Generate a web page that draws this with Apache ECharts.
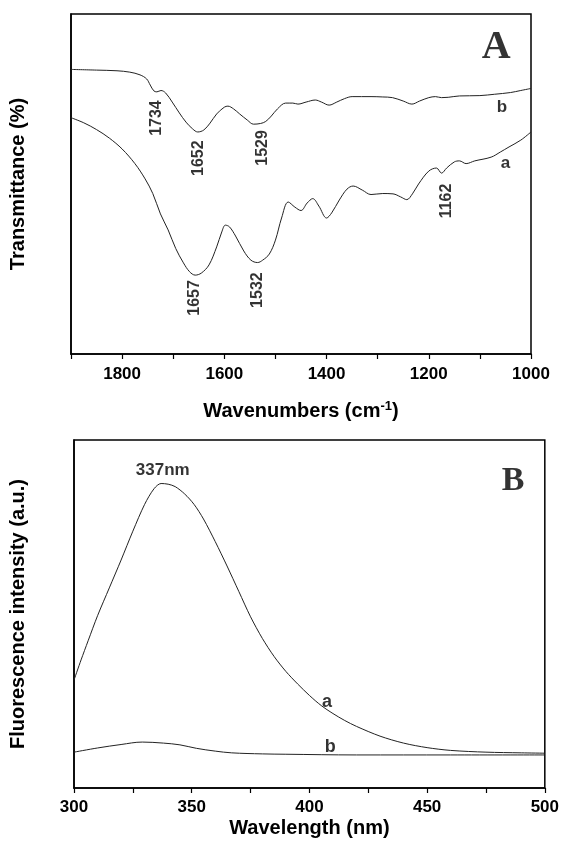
<!DOCTYPE html>
<html>
<head>
<meta charset="utf-8">
<script src="https://cdn.jsdelivr.net/npm/echarts@6/dist/echarts.min.js"></script>
<style>
html,body{margin:0;padding:0;background:#fff;}
#chart{width:562px;height:846px;}
</style>
</head>
<body>
<div id="chart"></div>
<script>
// ---------- Panel A (FTIR) ----------
var wavenumbersA = [1900,1875,1850,1825,1800,1775,1755,1740,1725,1710,1695,1680,1668,1657,1645,1630,1615,1605,1598,1590,1578,1562,1548,1535,1525,1512,1500,1488,1475,1462,1450,1438,1427,1415,1400,1390,1375,1360,1348,1330,1313,1290,1270,1255,1243,1232,1220,1200,1185,1175,1165,1150,1140,1127,1110,1078,1060,1043,1020,1000];
var transA = [69.5,68.0,66.0,63.5,60.3,56.0,51.5,47.2,41.2,36.5,31.0,26.8,24.2,23.2,23.8,26.2,31.5,35.9,37.9,37.4,34.7,30.3,27.6,26.9,27.6,29.4,33.5,40.0,44.7,43.2,42.2,44.4,45.7,43.5,40.0,41.5,45.3,48.5,49.4,48.2,46.9,47.2,47.1,46.2,45.4,47.1,50.0,53.8,54.7,53.2,54.7,56.5,56.8,56.0,56.8,57.9,59.4,60.9,62.9,65.3];
var wavenumbersB = [1900,1850,1810,1785,1765,1752,1745,1738,1732,1724,1715,1702,1688,1675,1662,1652,1640,1628,1615,1600,1593,1582,1570,1555,1543,1529,1519,1508,1496,1480,1466,1456,1440,1422,1410,1395,1380,1365,1350,1313,1290,1271,1250,1233,1218,1200,1187,1175,1162,1140,1100,1071,1040,1020,1000];
var transB = [83.7,83.5,83.3,82.9,82.1,80.9,79.1,77.4,77.1,77.5,76.8,74.1,70.9,68.2,66.2,65.3,65.9,67.9,70.6,72.6,72.9,72.1,70.6,68.8,67.6,67.8,68.4,70.0,72.1,73.8,73.8,73.5,74.1,74.7,74.1,73.2,74.1,75.1,75.7,75.7,75.6,75.4,74.4,73.5,74.4,75.4,75.7,75.4,75.5,75.9,76.0,76.4,76.9,77.5,78.1];
var xLabelsA = [1000,1200,1400,1600,1800];
// annotations: [x, y, text]
var peakLabelsA = [[1732,69.4,'1734'],[1650,57.6,'1652'],[1525,60.6,'1529'],[1659,16.5,'1657'],[1535,18.8,'1532'],[1166,45.0,'1162']];
var curveLabelsA = [[1057,72.6,'b'],[1050,56.2,'a']];
var panelLabelA = [[1068,90.0,'A']];

// ---------- Panel B (fluorescence) ----------
var wavelengthA = [300,303,306,310,315,320,325,330,334,337,340,343,347,351,355,360,365,370,375,380,385,390,395,400,405,410,415,420,430,440,450,460,475,490,500];
var fluorA = [31.0,36.8,42.3,49.5,57.5,65.5,73.8,81.5,86.0,87.5,87.3,86.6,84.5,81.5,77.3,70.8,63.8,56.5,49.2,43.0,37.8,33.5,29.9,26.6,23.7,21.4,19.4,17.7,14.9,12.9,11.6,10.8,10.3,10.1,10.0];
var wavelengthB = [300,310,320,329,338,345,352,360,367,380,390,420,460,500];
var fluorB = [10.3,11.5,12.5,13.2,12.9,12.4,11.4,10.6,10.1,9.8,9.7,9.5,9.5,9.5];
var xLabelsB = [300,350,400,450,500];
var peakLabelsB = [[337.7,91.2,'337nm']];
var curveLabelsB = [[407.5,24.8,'a'],[408.9,11.9,'b']];
var panelLabelB = [[486.5,88.2,'B']];

function zip(xs, ys){ return xs.map(function(x,i){ return [x, ys[i]]; }); }

var FONT = '"Liberation Sans", Arial, sans-serif';
var SERIF = '"Liberation Serif", "Times New Roman", serif';

function textSeries(xi, yi, arr, opts){
  return {
    type:'scatter', xAxisIndex:xi, yAxisIndex:yi, symbolSize:0, silent:true, z:5,
    data: arr.map(function(d){ return {value:[d[0], d[1]], name:d[2]}; }),
    label:{show:true, position:'inside', formatter:function(p){return p.name;},
      rotate: opts.rotate || 0, fontFamily: opts.family || FONT, fontWeight:'bold',
      fontSize: opts.size, color:'#000', textBorderWidth:0}
  };
}
function labelFilter(list){
  return function(v){ return list.indexOf(Math.round(v)) >= 0 ? String(Math.round(v)) : ''; };
}

var chart = echarts.init(document.getElementById('chart'), null, {renderer:'canvas'});
var axisLineStyle = {color:'#000', width:1.5};
var tickStyle = {color:'#000', width:1.2};
chart.setOption({
  animation:false,
  backgroundColor:'#fff',
  grid:[
    {left:71, right:31, top:14, height:340, show:true, borderColor:'#000', borderWidth:1.5},
    {left:74, right:16, top:440, height:348, show:true, borderColor:'#000', borderWidth:1.5}
  ],
  xAxis:[
    {gridIndex:0, type:'value', inverse:true, min:1000, max:1900, interval:100,
     axisLine:{show:true, onZero:false, lineStyle:axisLineStyle},
     axisTick:{show:true, inside:false, length:5, lineStyle:tickStyle},
     splitLine:{show:false},
     axisLabel:{margin:12, fontFamily:FONT, fontWeight:'bold', fontSize:17, color:'#000',
       formatter: labelFilter(xLabelsA), hideOverlap:false},
     name:'Wavenumbers (cm{sup|-1})', nameLocation:'middle', nameGap:46,
     nameTextStyle:{fontFamily:FONT, fontWeight:'bold', fontSize:20, color:'#000',
       rich:{sup:{fontFamily:FONT, fontWeight:'bold', fontSize:13, color:'#000', verticalAlign:'top', padding:[0,0,10,0]}}}
    },
    {gridIndex:1, type:'value', min:300, max:500, interval:25,
     axisLine:{show:true, onZero:false, lineStyle:axisLineStyle},
     axisTick:{show:true, inside:false, length:5, lineStyle:tickStyle},
     splitLine:{show:false},
     axisLabel:{margin:11, fontFamily:FONT, fontWeight:'bold', fontSize:17, color:'#000',
       formatter: labelFilter(xLabelsB), hideOverlap:false},
     name:'Wavelength (nm)', nameLocation:'middle', nameGap:30,
     nameTextStyle:{fontFamily:FONT, fontWeight:'bold', fontSize:20, color:'#000'}
    }
  ],
  yAxis:[
    {gridIndex:0, type:'value', min:0, max:100,
     axisLine:{show:true, lineStyle:axisLineStyle}, axisTick:{show:false}, axisLabel:{show:false}, splitLine:{show:false},
     name:'Transmittance (%)', nameLocation:'middle', nameGap:43, nameRotate:90,
     nameTextStyle:{fontFamily:FONT, fontWeight:'bold', fontSize:20, color:'#000'}},
    {gridIndex:1, type:'value', min:0, max:100,
     axisLine:{show:true, lineStyle:axisLineStyle}, axisTick:{show:false}, axisLabel:{show:false}, splitLine:{show:false},
     name:'Fluorescence intensity (a.u.)', nameLocation:'middle', nameGap:46, nameRotate:90,
     nameTextStyle:{fontFamily:FONT, fontWeight:'bold', fontSize:20, color:'#000'}}
  ],
  series:[
    {type:'line', xAxisIndex:0, yAxisIndex:0, data:zip(wavenumbersA, transA), smooth:0.35, showSymbol:false,
     lineStyle:{color:'#222', width:1}},
    {type:'line', xAxisIndex:0, yAxisIndex:0, data:zip(wavenumbersB, transB), smooth:0.35, showSymbol:false,
     lineStyle:{color:'#222', width:1}},
    {type:'line', xAxisIndex:1, yAxisIndex:1, data:zip(wavelengthA, fluorA), smooth:0.3, showSymbol:false,
     lineStyle:{color:'#222', width:1}},
    {type:'line', xAxisIndex:1, yAxisIndex:1, data:zip(wavelengthB, fluorB), smooth:0.35, showSymbol:false,
     lineStyle:{color:'#222', width:1}},
    textSeries(0,0,peakLabelsA,{rotate:90, size:16}),
    textSeries(0,0,curveLabelsA,{size:17}),
    textSeries(0,0,panelLabelA,{size:40, family:SERIF}),
    textSeries(1,1,peakLabelsB,{size:17}),
    textSeries(1,1,curveLabelsB,{size:18}),
    textSeries(1,1,panelLabelB,{size:34, family:SERIF})
  ]
});
</script>
</body>
</html>
